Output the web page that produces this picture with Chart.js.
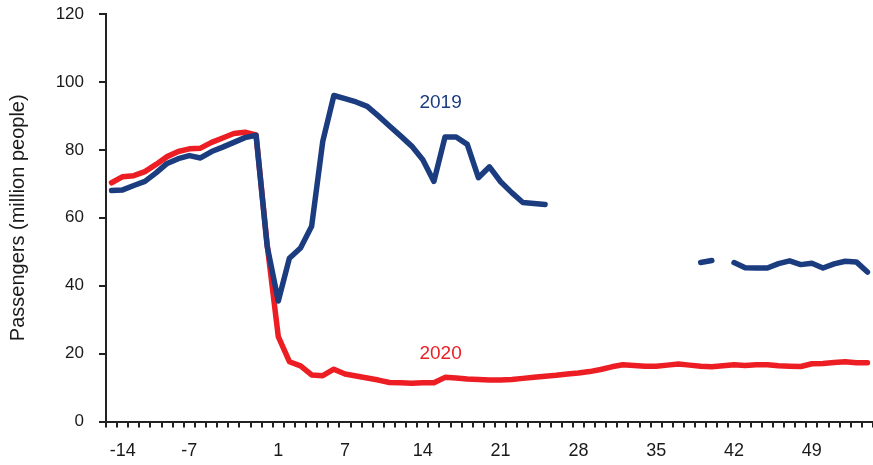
<!DOCTYPE html>
<html>
<head>
<meta charset="utf-8">
<script src="https://cdn.jsdelivr.net/npm/chart.js@4.4.0/dist/chart.umd.min.js"></script>
<style>
  html, body { margin: 0; padding: 0; background: #fff; }
</style>
</head>
<body>
<canvas id="myChart" width="873" height="465"></canvas>
<script>
// days relative to Spring Festival (no day 0)
const days = [-15, -14, -13, -12, -11, -10, -9, -8, -7, -6, -5, -4, -3, -2, -1,
  1, 2, 3, 4, 5, 6, 7, 8, 9, 10, 11, 12, 13, 14, 15, 16, 17, 18, 19, 20,
  21, 22, 23, 24, 25, 26, 27, 28, 29, 30, 31, 32, 33, 34, 35, 36, 37, 38, 39, 40,
  41, 42, 43, 44, 45, 46, 47, 48, 49, 50, 51, 52, 53, 54];

const passengers2019 = [68.0, 68.2, 69.5, 70.7, 73.2, 76.0, 77.4, 78.3, 77.6, 79.5,
  80.8, 82.2, 83.6, 84.3, 51.6, 35.5, 48.1, 51.1, 57.5, 82.5,
  96.0, 95.1, 94.1, 92.8, 90.0, 87.0, 84.1, 81.1, 77.1, 70.7,
  83.8, 83.8, 81.6, 71.8, 75.0, 70.6, 67.4, 64.5, 64.2, 63.9,
  null, null, null, null, null, null, null, null, null, null,
  null, null, null, 46.8, 47.4, null, 46.8, 45.3, 45.2, 45.2,
  46.5, 47.3, 46.2, 46.6, 45.2, 46.4, 47.2, 47.0, 44.0];

const passengers2020 = [70.3, 72.1, 72.4, 73.6, 75.7, 78.0, 79.5, 80.3, 80.5, 82.2,
  83.5, 84.8, 85.2, 84.4, 52.0, 25.0, 17.6, 16.4, 13.7, 13.5,
  15.4, 14.0, 13.4, 12.8, 12.2, 11.5, 11.4, 11.3, 11.4, 11.4,
  13.0, 12.8, 12.5, 12.4, 12.2, 12.2, 12.4, 12.7, 13.0, 13.3,
  13.6, 14.0, 14.3, 14.7, 15.3, 16.1, 16.7, 16.5, 16.3, 16.3,
  16.6, 16.9, 16.6, 16.3, 16.1, 16.4, 16.7, 16.5, 16.7, 16.7,
  16.4, 16.3, 16.2, 17.0, 17.1, 17.4, 17.6, 17.3, 17.3];

const seriesNames = ['2019', '2020'];

// tick labels and the category slot each one sits under
const tickText = ['-14', '-7', '1', '7', '14', '21', '28', '35', '42', '49'];
const tickSlot = [1, 7, 15, 21, 28, 35, 42, 49, 56, 63];

const BLUE = 'rgb(27, 61, 128)';
const RED = 'rgb(236, 30, 36)';
const FONT = "'Liberation Sans', Arial, sans-serif";

const seriesNotes = {
  id: 'seriesNotes',
  afterDatasetsDraw(chart, args, opts) {
    const { ctx, scales: { x, y } } = chart;
    ctx.save();
    ctx.font = '19px ' + FONT;
    ctx.textAlign = 'center';
    ctx.textBaseline = 'middle';
    opts.notes.forEach(n => {
      ctx.fillStyle = n.color;
      ctx.fillText(n.text, x.getPixelForValue(n.at), y.getPixelForValue(n.value));
    });
    ctx.restore();
  }
};

const ctx = document.getElementById('myChart').getContext('2d');

const myChart = new Chart(ctx, {
  type: 'line',
  data: {
    labels: days,
    datasets: [{
      label: seriesNames[0],
      data: passengers2019,
      borderColor: BLUE,
      borderWidth: 5.5,
      pointRadius: 0,
      spanGaps: false,
      borderCapStyle: 'round',
      borderJoinStyle: 'round',
      fill: false
    }, {
      label: seriesNames[1],
      data: passengers2020,
      borderColor: RED,
      borderWidth: 5.5,
      pointRadius: 0,
      borderCapStyle: 'round',
      borderJoinStyle: 'round',
      fill: false
    }]
  },
  options: {
    responsive: false,
    animation: false,
    layout: { padding: { top: 14, right: 0, left: 0, bottom: 0 } },
    plugins: {
      legend: { display: false },
      tooltip: { enabled: false },
      seriesNotes: {
        notes: [
          { text: seriesNames[0], at: 29.6, value: 93.8, color: BLUE },
          { text: seriesNames[1], at: 29.6, value: 20.0, color: RED }
        ]
      }
    },
    scales: {
      x: {
        type: 'category',
        offset: true,
        grid: { offset: true, drawOnChartArea: false, tickLength: 6, color: '#222', lineWidth: 2 },
        border: { color: '#222', width: 2 },
        ticks: {
          autoSkip: false,
          maxRotation: 0,
          minRotation: 0,
          padding: 13,
          color: '#1a1a1a',
          font: { size: 18, family: FONT },
          callback: (v, i) => {
            const k = tickSlot.indexOf(i);
            return k >= 0 ? tickText[k] : '';
          }
        },
        afterFit: s => {
          s.height = 43.5;
          s.paddingLeft = 0;
          s.paddingRight = 0;
        }
      },
      y: {
        min: 0,
        max: 120,
        grid: { drawOnChartArea: false, tickLength: 7, color: '#222', lineWidth: 2 },
        border: { color: '#222', width: 2 },
        ticks: { stepSize: 20, padding: 15, color: '#1a1a1a', font: { size: 17, family: FONT } },
        title: {
          display: true,
          text: 'Passengers (million people)',
          color: '#1a1a1a',
          font: { size: 20, family: FONT },
          padding: { top: 6, bottom: 0 }
        },
        afterFit: s => {
          s.width = 106;
          s.paddingTop = 0;
          s.paddingBottom = 0;
        }
      }
    }
  },
  plugins: [seriesNotes]
});
</script>
</body>
</html>
